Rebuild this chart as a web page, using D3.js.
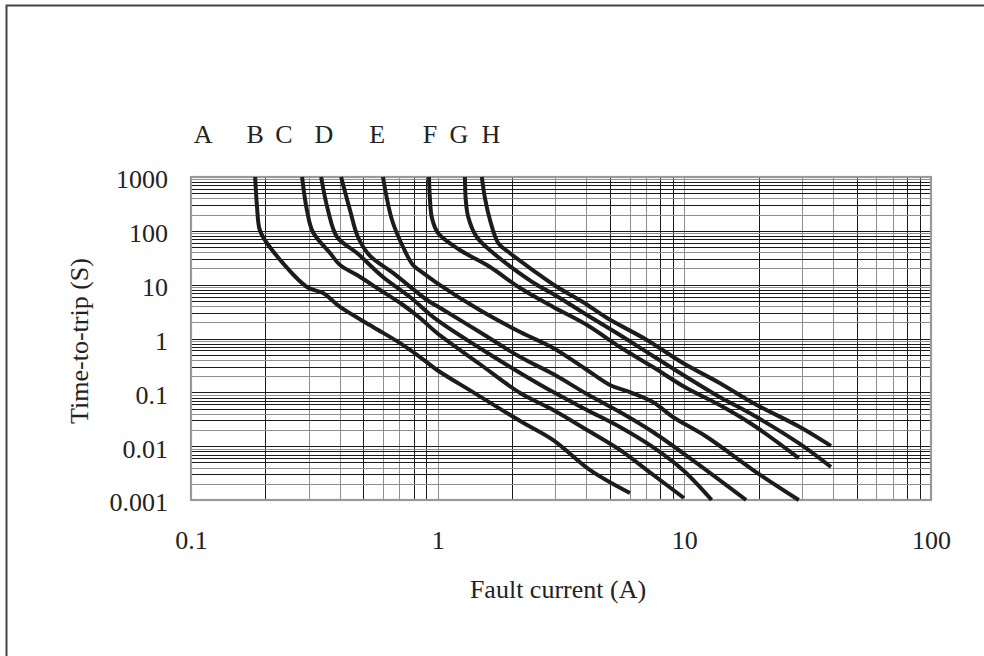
<!DOCTYPE html>
<html lang="en">
  <head>
    <meta charset="utf-8" />
    <style>
      body { margin: 0; background: #fff; }
      svg { display: block; }
    </style>
  </head>
  <body>
    <script src="https://d3js.org/d3.v7.min.js"></script>
    <script>
      // tick labels and the letters above the chart
      var xTickVals = [0.1, 1, 10, 100];
      var xTickText = ["0.1", "1", "10", "100"];
      var yTickVals = [0.001, 0.01, 0.1, 1, 10, 100, 1000];
      var yTickText = ["0.001", "0.01", "0.1", "1", "10", "100", "1000"];
      var letters = ["A", "B", "C", "D", "E", "F", "G", "H"];
      var letterX = [0.112, 0.182, 0.238, 0.346, 0.568, 0.931, 1.22, 1.644];

      // trip curves, [fault current A, time s]
      var c1 = [[0.182, 1000], [0.185, 302], [0.190, 104], [0.203, 59.4], [0.295, 9.05], [0.343, 7.0],
        [0.402, 3.85], [0.547, 1.64], [0.704, 0.82], [0.848, 0.453], [0.994, 0.26], [1.39, 0.101],
        [2.16, 0.0293], [2.94, 0.013], [4.15, 0.0036], [6.02, 0.00135]];
      var c2 = [[0.282, 1000], [0.295, 244], [0.312, 95], [0.366, 38.7], [0.402, 23.2], [0.471, 15.1],
        [0.584, 7.96], [0.724, 4.19], [0.848, 2.4], [0.994, 1.265], [1.48, 0.336],
        [2.16, 0.097], [2.94, 0.047], [4.03, 0.020], [5.48, 0.0085], [7.05, 0.0036], [9.96, 0.00109]];
      var c3 = [[0.337, 1000], [0.359, 244], [0.391, 76.8], [0.471, 38.7], [0.600, 13.9], [0.772, 5.9],
        [0.994, 2.21], [1.48, 0.666], [2.16, 0.229], [2.94, 0.101], [4.03, 0.047], [5.48, 0.0227],
        [7.46, 0.0096], [9.87, 0.0036], [12.9, 0.001]];
      var c4 = [[0.406, 1000], [0.441, 244], [0.475, 76.8], [0.532, 34.1], [0.659, 16.5], [0.905, 5.19],
        [0.994, 4.01], [1.48, 1.32], [2.16, 0.453], [2.94, 0.219], [4.03, 0.093], [5.48, 0.0431],
        [7.46, 0.0183], [10.8, 0.0055], [17.8, 0.001]];
      var c5 = [[0.600, 1000], [0.653, 159], [0.724, 50.1], [0.794, 23.2], [0.872, 16.5], [0.994, 10.7],
        [1.48, 3.38], [2.16, 1.32], [2.94, 0.666], [4.03, 0.26], [4.99, 0.137], [6.02, 0.101],
        [7.46, 0.066], [8.99, 0.0348], [12.35, 0.0148], [19.0, 0.0036], [29.1, 0.001]];
      var c6 = [[0.922, 1000], [0.931, 374], [0.948, 173], [1.003, 91.1], [1.23, 44.1], [1.63, 21.3],
        [2.16, 8.67], [2.94, 3.85], [4.03, 1.78], [5.48, 0.695], [7.46, 0.295], [10.2, 0.120],
        [13.9, 0.0581], [19.0, 0.0247], [29.1, 0.0060]];
      var c7 = [[1.29, 1000], [1.30, 374], [1.33, 181], [1.44, 76.8], [1.68, 38.7], [1.96, 22.2],
        [2.53, 9.86], [2.94, 6.71], [4.03, 2.73], [5.48, 1.16], [7.46, 0.473], [10.2, 0.193],
        [13.9, 0.082], [19.0, 0.0379], [29.4, 0.011], [39.3, 0.0041]];
      var c8 = [[1.51, 1000], [1.56, 374], [1.63, 159], [1.76, 59.4], [1.96, 38.7], [2.43, 18.7],
        [3.05, 9.05], [3.88, 4.76], [4.86, 2.4], [7.05, 0.94], [9.87, 0.35], [13.9, 0.149],
        [19.0, 0.0633], [29.4, 0.0227], [39.3, 0.0101]];
      var curves = [c1, c2, c3, c4, c5, c6, c7, c8];

      var width = 984,
        height = 656;
      var serif = "'Liberation Serif', 'Times New Roman', serif";
      var fontSize = 26;

      var svg = d3.select("body")
        .append("svg")
        .attr("width", width)
        .attr("height", height);

      svg.append("rect").attr("width", width).attr("height", height).attr("fill", "#fff");

      // outer frame, only top and left edges show in the picture
      svg.append("path")
        .attr("d", "M6.5," + height + "V5.5H" + width)
        .attr("fill", "none")
        .attr("stroke", "#444")
        .attr("stroke-width", 2);

      var x = d3.scaleLog().domain([0.1, 100]).range([191, 931]);
      var y = d3.scaleLog().domain([0.001, 1000]).range([500, 177]);

      function mantissa(v) {
        return Math.round(v / Math.pow(10, Math.floor(Math.log10(v) + 1e-9)));
      }

      // grid, a scan so half the lines come out grey and half black
      var grid = svg.append("g").attr("shape-rendering", "crispEdges");
      var xGrid = x.ticks().filter(function (v) { return v > 0.1 && v < 100; });
      function darkX(d) {
        var m = mantissa(d);
        return m == 2 || m == 8 || m == 9 || m == 5;
      }
      grid.selectAll(".vx")
        .data(xGrid)
        .join("line")
        .attr("x1", function (d) { return Math.round(x(d)) + 0.5; })
        .attr("x2", function (d) { return Math.round(x(d)) + 0.5; })
        .attr("y1", y(1000))
        .attr("y2", y(0.001))
        .attr("stroke", function (d) { return darkX(d) ? "#1a1a1a" : "#8f8f8f"; })
        .attr("stroke-width", function (d) { return darkX(d) ? 1 : 1.6; });

      var yGrid = y.ticks().filter(function (v) { return v > 0.001 && v < 1000; });
      function greyY(d) {
        var m = mantissa(d);
        return m == 2 || m == 9 || m == 4;
      }
      grid.selectAll(".hy")
        .data(yGrid)
        .join("line")
        .attr("x1", x(0.1))
        .attr("x2", x(100))
        .attr("y1", function (d) { return Math.round(y(d)) + 0.5; })
        .attr("y2", function (d) { return Math.round(y(d)) + 0.5; })
        .attr("stroke", function (d) { return greyY(d) ? "#8f8f8f" : "#1a1a1a"; })
        .attr("stroke-width", function (d) { return greyY(d) ? 1.6 : 1; });

      // plot border
      svg.append("rect")
        .attr("x", x(0.1))
        .attr("y", y(1000))
        .attr("width", x(100) - x(0.1))
        .attr("height", y(0.001) - y(1000))
        .attr("fill", "none")
        .attr("stroke", "#999")
        .attr("stroke-width", 2.2);

      // curves
      var line = d3.line()
        .x(function (d) { return x(d[0]); })
        .y(function (d) { return y(d[1]); })
        .curve(d3.curveCatmullRom.alpha(0.5));

      svg.append("g")
        .selectAll("path")
        .data(curves)
        .join("path")
        .attr("d", line)
        .attr("fill", "none")
        .attr("stroke", "#1c1c1c")
        .attr("stroke-width", 4)
        .attr("stroke-linejoin", "round");

      // axis labels
      var xAxis = d3.axisBottom(x)
        .tickValues(xTickVals)
        .tickFormat(function (d, i) { return xTickText[i]; })
        .tickSize(0)
        .tickPadding(31);
      var gx = svg.append("g").attr("transform", "translate(0," + y(0.001) + ")").call(xAxis);
      gx.select(".domain").remove();
      gx.selectAll("text").attr("font-family", serif).attr("font-size", fontSize).attr("fill", "#222");

      var yAxis = d3.axisLeft(y)
        .tickValues(yTickVals)
        .tickFormat(function (d, i) { return yTickText[i]; })
        .tickSize(0)
        .tickPadding(23);
      var gy = svg.append("g").attr("transform", "translate(" + x(0.1) + ",0)").call(yAxis);
      gy.select(".domain").remove();
      gy.selectAll("text")
        .attr("dy", "0.42em")
        .attr("font-family", serif)
        .attr("font-size", fontSize)
        .attr("fill", "#222");

      svg.append("text")
        .attr("x", 558)
        .attr("y", 598)
        .attr("text-anchor", "middle")
        .attr("font-family", serif)
        .attr("font-size", fontSize)
        .attr("fill", "#222")
        .text("Fault current (A)");

      svg.append("text")
        .attr("transform", "translate(88,341) rotate(-90)")
        .attr("text-anchor", "middle")
        .attr("font-family", serif)
        .attr("font-size", fontSize)
        .attr("fill", "#222")
        .text("Time-to-trip (S)");

      svg.append("g")
        .selectAll("text")
        .data(letters)
        .join("text")
        .attr("x", function (d, i) { return x(letterX[i]); })
        .attr("y", 143)
        .attr("text-anchor", "middle")
        .attr("font-family", serif)
        .attr("font-size", fontSize)
        .attr("fill", "#222")
        .text(function (d) { return d; });

      console.log("ready..");
    </script>
  </body>
</html>
